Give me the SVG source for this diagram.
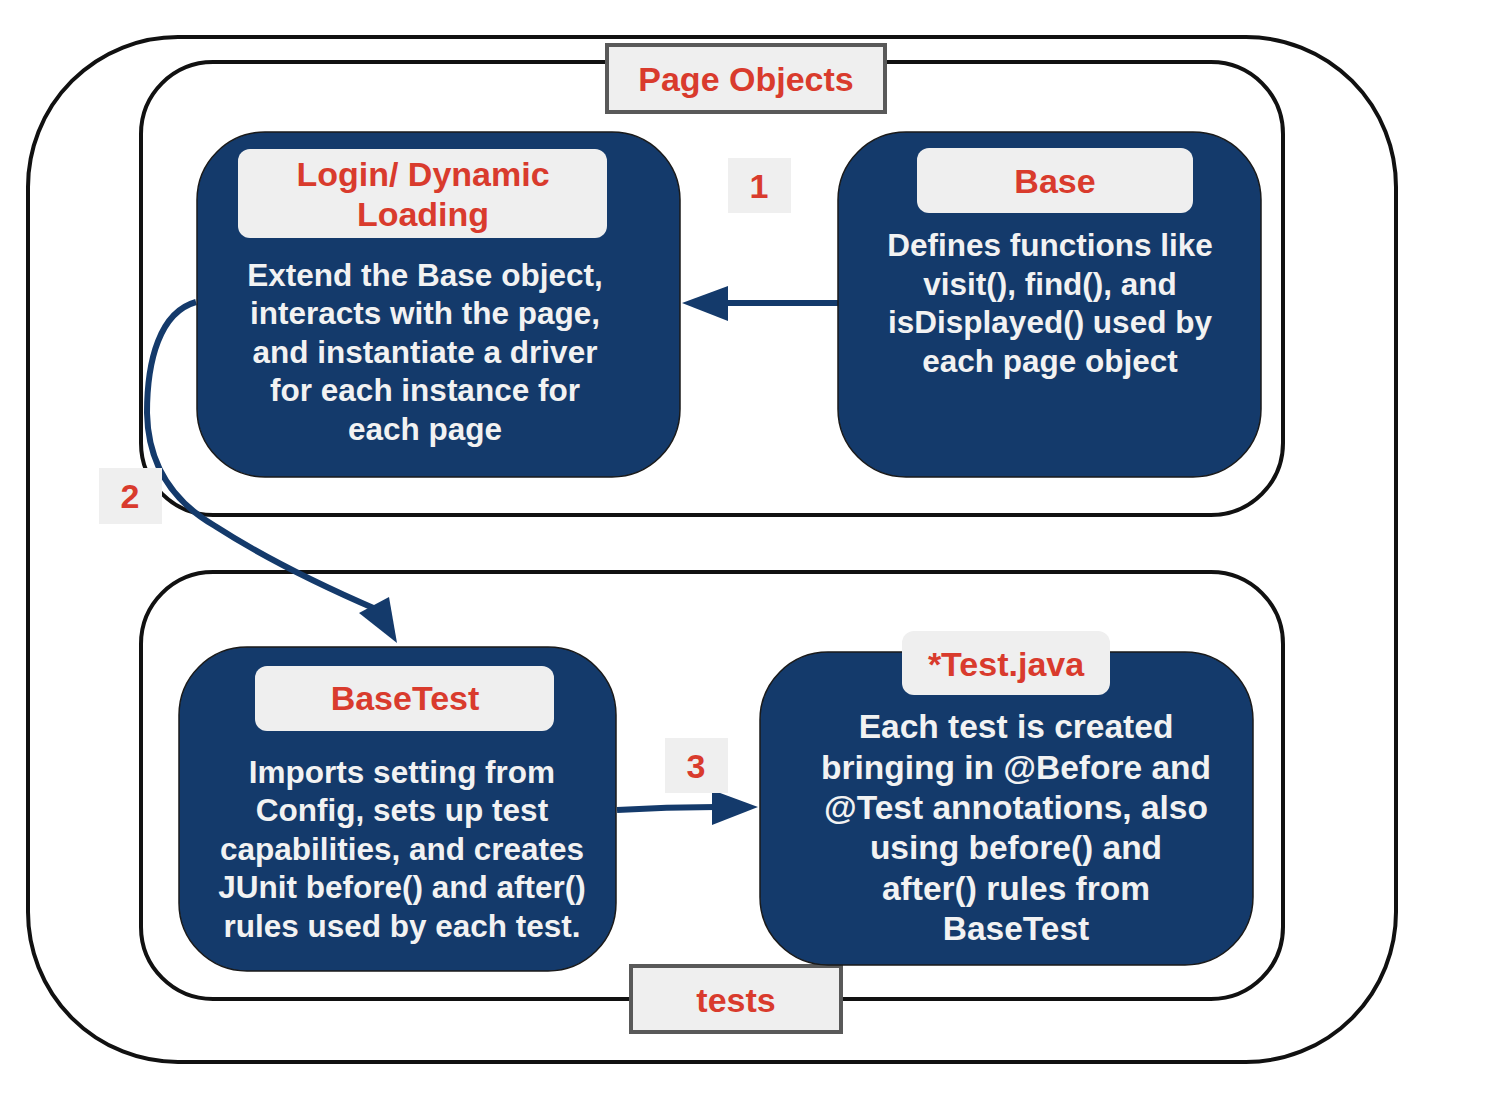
<svg xmlns="http://www.w3.org/2000/svg" width="1490" height="1094" viewBox="0 0 1490 1094">
<style>
.container{fill:none;stroke:#111;stroke-width:4}
.node{fill:#143a6b;stroke:#1a1a1a;stroke-width:1.5}
.title{fill:#efefef}
.lbl{fill:#efefef;stroke:#595959;stroke-width:4}
.num{fill:#efefef}
.t{font-family:"Liberation Sans",Arial,sans-serif;font-weight:bold;text-anchor:middle}
.red{fill:#d93b2d;font-size:34px}
.body{fill:#f2f2f2;font-size:31.5px}
.body2{fill:#f2f2f2;font-size:33.5px}
.conn{fill:none;stroke:#143a6b;stroke-width:6}
.head{fill:#143a6b}
</style>
<rect width="1490" height="1094" fill="#ffffff"/>
<g id="containers">
<rect class="container" x="28" y="37" width="1368" height="1025" rx="150" ry="150"/>
<rect class="container" x="141" y="62" width="1142" height="453" rx="72" ry="72"/>
<rect class="container" x="141" y="572" width="1142" height="427" rx="72" ry="72"/>
</g>
<g id="page-objects-label">
<rect class="lbl" x="607" y="45" width="278" height="67"/>
<text class="t red" x="746" y="91">Page Objects</text>
</g>
<g id="tests-label">
<rect class="lbl" x="631" y="966" width="210" height="66"/>
<text class="t red" x="736" y="1012">tests</text>
</g>
<g id="connectors">
<line class="conn" x1="838" y1="303" x2="724" y2="303"/>
<polygon class="head" points="682,303 728,286 728,321"/>
<path class="conn" d="M196,302 C160,312 147,360 147,413 C148,462 170,500 215,526 C260,555 320,585 378,610"/>
<polygon class="head" points="397,643 359,613 389,597"/>
<path class="conn" d="M617,810 C650,808 680,807 716,807"/>
<polygon class="head" points="758,807 712,790 712,825"/>
</g>
<g id="label-1">
<rect class="num" x="728" y="158" width="63" height="55"/>
<text class="t red" x="759" y="198">1</text>
</g>
<g id="label-2">
<rect class="num" x="99" y="468" width="63" height="56"/>
<text class="t red" x="130" y="508">2</text>
</g>
<g id="label-3">
<rect class="num" x="665" y="738" width="63" height="55"/>
<text class="t red" x="696" y="778">3</text>
</g>
<g id="node-login">
<rect class="node" x="197" y="132" width="483" height="345" rx="68" ry="68"/>
<rect class="title" x="238" y="149" width="369" height="89" rx="12" ry="12"/>
<text class="t red" x="423" y="186">Login/ Dynamic</text>
<text class="t red" x="423" y="226">Loading</text>
<text class="t body" x="425" y="286">Extend the Base object,</text>
<text class="t body" x="425" y="324">interacts with the page,</text>
<text class="t body" x="425" y="363">and instantiate a driver</text>
<text class="t body" x="425" y="401">for each instance for</text>
<text class="t body" x="425" y="440">each page</text>
</g>
<g id="node-base">
<rect class="node" x="838" y="132" width="423" height="345" rx="68" ry="68"/>
<rect class="title" x="917" y="148" width="276" height="65" rx="12" ry="12"/>
<text class="t red" x="1055" y="193">Base</text>
<text class="t body" x="1050" y="256">Defines functions like</text>
<text class="t body" x="1050" y="295">visit(), find(), and</text>
<text class="t body" x="1050" y="333">isDisplayed() used by</text>
<text class="t body" x="1050" y="372">each page object</text>
</g>
<g id="node-basetest">
<rect class="node" x="179" y="647" width="437" height="324" rx="68" ry="68"/>
<rect class="title" x="255" y="666" width="299" height="65" rx="12" ry="12"/>
<text class="t red" x="405" y="710">BaseTest</text>
<text class="t body" x="402" y="783">Imports setting from</text>
<text class="t body" x="402" y="821">Config, sets up test</text>
<text class="t body" x="402" y="860">capabilities, and creates</text>
<text class="t body" x="402" y="898">JUnit before() and after()</text>
<text class="t body" x="402" y="937">rules used by each test.</text>
</g>
<g id="node-testjava">
<rect class="node" x="760" y="652" width="493" height="313" rx="68" ry="68"/>
<rect class="title" x="902" y="631" width="208" height="64" rx="12" ry="12"/>
<text class="t red" x="1006" y="676">*Test.java</text>
<text class="t body2" x="1016" y="738">Each test is created</text>
<text class="t body2" x="1016" y="779">bringing in @Before and</text>
<text class="t body2" x="1016" y="819">@Test annotations, also</text>
<text class="t body2" x="1016" y="859">using before() and</text>
<text class="t body2" x="1016" y="900">after() rules from</text>
<text class="t body2" x="1016" y="940">BaseTest</text>
</g>
</svg>
